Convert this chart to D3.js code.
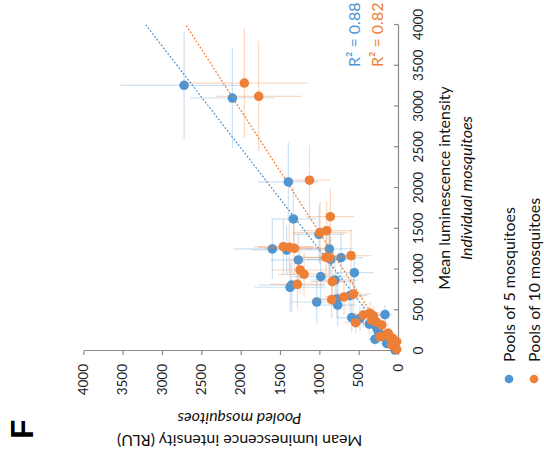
<!DOCTYPE html>
<html><head><meta charset="utf-8">
<script src="https://cdn.jsdelivr.net/npm/d3@7"></script>
<style>body{margin:0;background:#fff} text{font-family:Lato, "Open Sans", sans-serif}</style>
</head><body><svg id="c" width="544" height="460"></svg>
<script>
// ---- data ----
const ticks = [0,500,1000,1500,2000,2500,3000,3500,4000];
const seriesNames = ["Pools of 5 mosquitoes","Pools of 10 mosquitoes"];
const r2Labels = ["R\u00B2 = 0.88","R\u00B2 = 0.82"];
// Pools of 5 (blue): individual mean, pooled mean, SDs
const p5Individual = [3260,3104,2074,1620,1252,1239,1117,1432,1252,1125,1145,961,912,871,810,782,601,638,564,679,409,446,401,331,286,237,144,94,12];
const p5Pooled     = [2719,2105,1394,1330,1597,1414,1267,1004,873,855,724,555,982,800,1351,1372,1033,779,766,610,588,165,483,365,271,250,292,144,38];
const p5IndErr     = [660,615,480,390,360,300,320,350,300,280,300,260,280,250,330,300,260,240,260,200,180,120,150,130,110,90,80,60,30];
const p5PoolErr    = [810,540,380,280,500,450,350,320,300,320,280,240,350,300,420,450,330,260,240,220,180,100,150,120,110,90,90,60,30];
// Pools of 10 (orange)
const p10Individual = [3288,3125,2096,1648,1452,1476,1280,1272,1260,1150,1145,1170,994,941,818,851,630,663,699,442,347,463,433,380,360,319,209,217,175,156,175,114,74,21];
const p10Pooled     = [1953,1770,1125,860,991,906,1457,1381,1318,915,873,597,1245,1194,1279,835,843,686,568,441,538,356,314,334,280,207,144,123,123,67,229,17,80,17];
const p10IndErr     = [675,675,430,350,380,360,340,320,330,300,300,320,280,270,300,250,230,220,220,150,130,140,120,110,100,90,70,70,60,50,60,40,30,20];
const p10PoolErr    = [800,540,260,300,350,330,380,400,380,320,330,260,360,330,350,280,260,240,220,150,140,130,120,110,100,80,60,60,50,40,70,30,30,20];
// linear fits: pooled = slope*individual + intercept
const fitSlope = [0.80,0.667];
const fitIntercept = [5,28];

const colors = ["#4E95D4","#EE7F36"];
const errColors = ["rgba(91,155,213,0.3)","rgba(237,125,49,0.3)"];

const svg = d3.select("#c");
// whole figure is drawn in its original orientation, then rotated 90deg CCW
const g = svg.append("g").attr("transform","translate(0,460) rotate(-90)");

const x = d3.scaleLinear().domain([0,4000]).range([109,435]);
const y = d3.scaleLinear().domain([0,4000]).range([398,83.3]);

// axes
const axCol = "#8a8a8a";
const xAx = g.append("g").attr("transform","translate(0,398)")
  .call(d3.axisBottom(x).tickValues(ticks).tickSize(-4).tickSizeOuter(0).tickPadding(15).tickFormat(d3.format("d")));
const yAx = g.append("g").attr("transform","translate(109,0)")
  .call(d3.axisLeft(y).tickValues(ticks).tickSize(4).tickSizeOuter(0).tickPadding(9).tickFormat(d3.format("d")));
[xAx,yAx].forEach(a=>{
  a.select(".domain").attr("stroke",axCol).attr("stroke-width",1.2);
  a.selectAll(".tick line").attr("stroke",axCol).attr("stroke-width",1.2);
  a.selectAll(".tick text").attr("fill","#222").style("font-size","13.5px").style("font-family","Lato, sans-serif");
});

// series
const series = [
  {I:p5Individual,P:p5Pooled,eI:p5IndErr,eP:p5PoolErr},
  {I:p10Individual,P:p10Pooled,eI:p10IndErr,eP:p10PoolErr}
];

// trend lines
series.forEach((s,k)=>{
  g.append("line")
    .attr("x1",x(0)).attr("y1",y(fitIntercept[k]))
    .attr("x2",x(4000)).attr("y2",y(fitSlope[k]*4000+fitIntercept[k]))
    .attr("stroke",colors[k]).attr("stroke-width",1.3)
    .attr("stroke-dasharray","1.8,1.8");
});

series.forEach((s,k)=>{
  const data = s.I.map((v,i)=>({i:v,p:s.P[i],ei:s.eI[i],ep:s.eP[i]}));
  const eg = g.append("g");
  eg.selectAll("line.h").data(data).join("line")
    .attr("x1",d=>x(d.i-d.ei)).attr("x2",d=>x(d.i+d.ei))
    .attr("y1",d=>y(d.p)).attr("y2",d=>y(d.p))
    .attr("stroke",errColors[k]).attr("stroke-width",1.2);
  eg.selectAll("line.v").data(data).join("line")
    .attr("x1",d=>x(d.i)).attr("x2",d=>x(d.i))
    .attr("y1",d=>y(d.p-d.ep)).attr("y2",d=>y(d.p+d.ep))
    .attr("stroke",errColors[k]).attr("stroke-width",1.2);
  g.append("g").selectAll("circle").data(data).join("circle")
    .attr("cx",d=>x(d.i)).attr("cy",d=>y(d.p)).attr("r",4.8)
    .attr("fill",colors[k]);
});

// R2 labels
r2Labels.forEach((t,k)=>{
  g.append("text").attr("x",393).attr("y",[360,383][k]).attr("fill",colors[k])
    .style("font-size","16px").text(t);
});

// axis titles
g.append("text").attr("x",272).attr("y",450).attr("text-anchor","middle")
  .style("font-size","16px").attr("fill","#111").text("Mean luminescence intensity");
g.append("text").attr("x",272).attr("y",472).attr("text-anchor","middle")
  .style("font-size","16px").style("font-style","italic").attr("fill","#111").text("Individual mosquitoes");
g.append("g").attr("transform","translate(25,239.5) rotate(-90)")
  .append("text").attr("text-anchor","middle").style("font-size","16px").attr("fill","#111")
  .text("Mean luminescence intensity (RLU)");
g.append("g").attr("transform","translate(47,239.5) rotate(-90)")
  .append("text").attr("text-anchor","middle").style("font-size","16px").style("font-style","italic").attr("fill","#111")
  .text("Pooled mosquitoes");

// legend
seriesNames.forEach((n,k)=>{
  const oy = [509,534][k];
  g.append("circle").attr("cx",81).attr("cy",oy).attr("r",4.3).attr("fill",colors[k]);
  g.append("text").attr("x",98).attr("y",oy+5.5).style("font-size","16px").attr("fill","#111").text(n);
});

// panel letter
g.append("text").attr("x",21).attr("y",33).style("font-family","'Liberation Sans', Arial, sans-serif")
  .style("font-weight","bold").style("font-size","32px").attr("fill","#000").text("F");
</script></body></html>
